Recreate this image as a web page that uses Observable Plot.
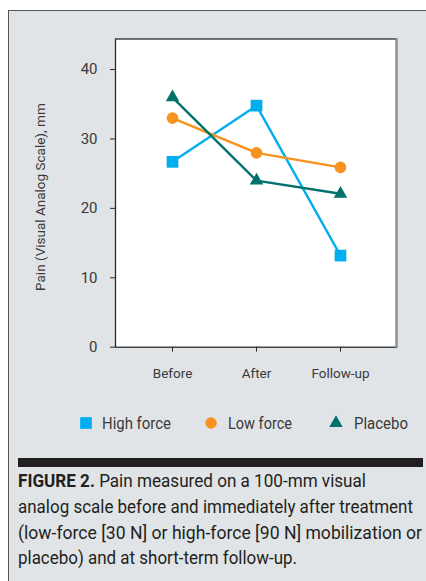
<!DOCTYPE html>
<html><head><meta charset="utf-8">
<script src="https://cdn.jsdelivr.net/npm/d3@7"></script>
<script src="https://cdn.jsdelivr.net/npm/@observablehq/plot@0.6"></script>
<style>
html,body{margin:0;padding:0;background:#fff;width:426px;height:581px;overflow:hidden;position:relative;}
#panel{position:absolute;left:7.5px;top:10px;width:440px;height:600px;background:#e1e4e7;border-left:1.7px solid #555;border-top:1.7px solid #555;}
#chart{position:absolute;left:0;top:0;}
#legend{position:absolute;left:0;top:0;width:426px;height:20px;font-family:Roboto,"Liberation Sans",sans-serif;font-size:16.5px;color:#3a3a3a;}
#legend .item{position:absolute;top:413px;display:flex;align-items:center;height:20px;white-space:nowrap;}
#legend svg{display:block;}
#legend .lab{display:inline-block;transform-origin:0 50%;}
#bar{position:absolute;left:18px;top:458px;width:405px;height:9px;background:#231f20;}
#caption{position:absolute;left:18px;top:469px;font-family:Roboto,"Liberation Sans",sans-serif;font-size:17.5px;line-height:25.8px;color:#231f20;white-space:nowrap;}
#caption .line{display:inline-block;transform-origin:0 50%;}
#caption b{font-weight:bold;}
</style>
</head><body>
<div id="panel"></div>
<div id="chart"></div>
<div id="legend"></div>
<div id="bar"></div>
<div id="caption"></div>
<script>
// ---- data ----
const timepoints = ["Before", "After", "Follow-up"];
const seriesNames = ["High force", "Low force", "Placebo"];
const highForce = [26.7, 34.8, 13.2];
const lowForce = [33.0, 28.0, 25.9];
const placebo = [36.0, 24.0, 22.1];
const yTicks = [0, 10, 20, 30, 40];
const yLabel = "Pain (Visual Analog Scale), mm";
const captionBold = "FIGURE 2.";
const captionLines = [
  " Pain measured on a 100-mm visual",
  "analog scale before and immediately after treatment",
  "(low-force [30 N] or high-force [90 N] mobilization or",
  "placebo) and at short-term follow-up."
];

const colors = ["#00aeef", "#f7931e", "#00716b"];
const symbols = ["square", "circle", "triangle"];
const radii = [6.6, 5.8, 5.0];
const valuesBySeries = [highForce, lowForce, placebo];

const rows = [];
seriesNames.forEach((s, i) => timepoints.forEach((t, j) => rows.push({series: s, time: t, value: valuesBySeries[i][j]})));

const font = 'Roboto,"Liberation Sans",sans-serif';

const marks = [
  Plot.frame({fill: "white", stroke: "#2a2a2a", strokeWidth: 1.3}),
  Plot.frame({anchor: "right", stroke: "#8c8c8c", strokeWidth: 2.2}),
  Plot.axisY({ticks: yTicks, tickSize: 5, tickPadding: 13, fontSize: 15, label: null, stroke: "#2a2a2a", fill: "#3a3a3a"}),
  Plot.axisX({tickSize: 5, tickPadding: 16, fontSize: 13.5, label: null, stroke: "#2a2a2a", fill: "#3a3a3a"}),
  Plot.text([yLabel], {frameAnchor: "left", textAnchor: "middle", rotate: -90, dx: -75, dy: 4, fontSize: 13.5, fill: "#3a3a3a"})
];
seriesNames.forEach((s, i) => {
  const d = rows.filter(r => r.series === s);
  marks.push(Plot.line(d, {x: "time", y: "value", stroke: colors[i], strokeWidth: 2.4}));
});
seriesNames.forEach((s, i) => {
  const d = rows.filter(r => r.series === s);
  marks.push(Plot.dot(d, {x: "time", y: "value", symbol: () => symbols[i], fill: colors[i], stroke: "none", r: radii[i]}));
});

const chart = Plot.plot({
  width: 426,
  height: 390,
  marginLeft: 115,
  marginRight: 30,
  marginTop: 38.5,
  marginBottom: 43.3,
  style: {background: "transparent", fontFamily: font, color: "#3a3a3a", overflow: "visible"},
  x: {type: "point", domain: timepoints, padding: 0.66},
  y: {domain: [0, 44.4]},
  symbol: {domain: symbols, range: symbols},
  marks
});
document.getElementById("chart").appendChild(chart);

// fit a text element horizontally to the width it has in the reference
function fit(el, target) {
  const w = el.getBoundingClientRect().width;
  if (w > 0) el.style.transform = `scaleX(${target / w})`;
}

// legend
const legend = document.getElementById("legend");
const lx = [79, 204, 329];
const legendTextWidths = [69, 64, 54];
const symbolTypes = {square: d3.symbolSquare, circle: d3.symbolCircle, triangle: d3.symbolTriangle};
seriesNames.forEach((s, i) => {
  const item = document.createElement("div");
  item.className = "item";
  item.style.left = lx[i] + "px";
  const sym = d3.symbol(symbolTypes[symbols[i]], Math.PI * radii[i] * radii[i])();
  item.innerHTML = `<svg width="14" height="20" viewBox="-7 -10 14 20"><path d="${sym}" fill="${colors[i]}"/></svg><span class="lab" style="margin-left:${i===0?9:i===1?10:11}px">${s}</span>`;
  legend.appendChild(item);
  fit(item.querySelector(".lab"), legendTextWidths[i]);
});

// caption
const captionWidths = [348, 395, 404, 279];
const cap = document.getElementById("caption");
cap.innerHTML = `<div><span class="line"><b>${captionBold}</b>${captionLines[0]}</span></div>` +
  captionLines.slice(1).map(l => `<div><span class="line">${l}</span></div>`).join("");
cap.querySelectorAll(".line").forEach((el, i) => fit(el, captionWidths[i]));
</script>
</body></html>
